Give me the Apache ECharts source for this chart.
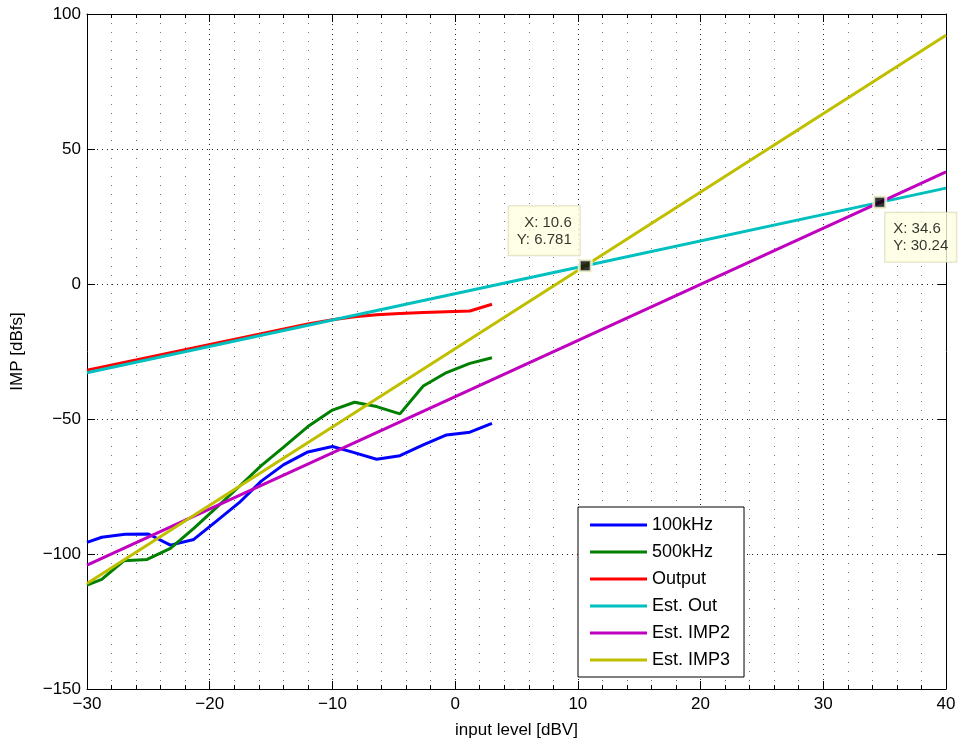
<!DOCTYPE html>
<html><head><meta charset="utf-8">
<script src="https://cdn.jsdelivr.net/npm/echarts@6/dist/echarts.min.js"></script>
<style>html,body{margin:0;padding:0;background:#fff}#c{width:962px;height:747px}</style>
</head><body><div id="c"></div>
<script>
var xTicks = [-30, -20, -10, 0, 10, 20, 30, 40];
var yTicks = [-150, -100, -50, 0, 50, 100];

var blueX = [-30, -28.8, -26.9, -25, -23.2, -21.3, -19.5, -17.6, -15.8, -14, -12, -10, -8.5, -6.4, -4.5, -2.6, -0.7, 1.2, 3];
var blueY = [-95.7, -93.8, -92.7, -92.6, -96.7, -94.6, -88, -81, -73, -67, -62.2, -60.2, -62.1, -64.9, -63.6, -59.6, -55.9, -54.9, -51.6];

var greenX = [-30, -28.8, -27, -25.1, -23.2, -21.3, -19.5, -17.6, -15.8, -14, -12, -10, -8.2, -6.4, -4.5, -2.6, -0.7, 1.2, 3];
var greenY = [-111.5, -109.4, -102.5, -102, -97.9, -90.5, -83, -75, -67.3, -60.5, -52.8, -46.7, -43.8, -45.4, -48.1, -37.8, -32.8, -29.4, -27.3];

var redX = [-30, -12, -10, -8.2, -6.4, -4.5, -2.6, -0.7, 1.2, 3];
var redY = [-31.9, -14.8, -13.2, -12.1, -11.4, -10.9, -10.6, -10.3, -10, -7.5];

var estOutX = [-30, 10.6, 34.6, 40];
var estOutY = [-32.9, 6.781, 30.24, 35.5];

var estImp2X = [-30, 34.6, 40];
var estImp2Y = [-104.1, 30.24, 41.5];

var estImp3X = [-30, 10.6, 40];
var estImp3Y = [-110.9, 6.781, 92.1];

var tipX = [10.6, 34.6];
var tipY = [6.781, 30.24];

var names = ['100kHz', '500kHz', 'Output', 'Est. Out', 'Est. IMP2', 'Est. IMP3'];
var colors = ['#0000ff', '#008000', '#ff0000', '#00bfbf', '#bf00bf', '#bfbf00'];

function pairs(xs, ys) { return xs.map(function (x, i) { return [x, ys[i]]; }); }
function fmt(v) { return String(v).replace('-', '\u2212'); }

var FONT = 'Liberation Sans, Arial, sans-serif';
var FS = 17;
var seriesData = [pairs(blueX, blueY), pairs(greenX, greenY), pairs(redX, redY),
  pairs(estOutX, estOutY), pairs(estImp2X, estImp2Y), pairs(estImp3X, estImp3Y)];

var series = names.map(function (n, i) {
  return {
    name: n, type: 'line', data: seriesData[i], showSymbol: false, symbol: 'none',
    lineStyle: { color: colors[i], width: 3 }, itemStyle: { color: colors[i] },
    z: 3, animation: false, silent: true
  };
});

var tipStyle = {
  show: true, fontFamily: FONT, fontSize: 15, lineHeight: 17, color: '#000',
  backgroundColor: '#ffffe1', borderColor: '#d8d8b8', borderWidth: 1, padding: [8, 8, 7, 8]
};
series.push({
  type: 'scatter', name: 'tips', z: 10, animation: false, silent: true,
  symbol: 'rect', symbolSize: 12,
  itemStyle: { color: '#000', borderColor: '#ffffe1', borderWidth: 3 },
  data: [
    { value: [tipX[0], tipY[0]], label: Object.assign({}, tipStyle, {
        formatter: 'X: ' + tipX[0] + '\nY: ' + tipY[0], position: [2, -3], align: 'right', verticalAlign: 'bottom' }) },
    { value: [tipX[1], tipY[1]], label: Object.assign({}, tipStyle, {
        formatter: 'X: ' + tipX[1] + '\nY: ' + tipY[1], position: [13, 18], align: 'left', verticalAlign: 'top' }) }
  ]
});

var chart = echarts.init(document.getElementById('c'), null, { renderer: 'canvas' });
chart.setOption({
  backgroundColor: '#fff',
  animation: false,
  textStyle: { fontFamily: FONT },
  grid: { left: 87, right: 16, top: 14, bottom: 58, containLabel: false },
  legend: {
    data: names, orient: 'vertical', left: 578, top: 507,
    icon: 'rect', itemWidth: 57, itemHeight: 3, itemGap: 7,
    padding: [8, 14, 7, 12], backgroundColor: '#fff', borderColor: '#000', borderWidth: 1,
    textStyle: { fontFamily: FONT, fontSize: 18, color: '#000', lineHeight: 20 },
    selectedMode: false, z: 20
  },
  xAxis: [{
    type: 'value', min: -30, max: 40, interval: 10, position: 'bottom',
    name: 'input level [dBV]', nameLocation: 'middle', nameGap: 33,
    nameTextStyle: { fontFamily: FONT, fontSize: FS, color: '#000' },
    axisLine: { show: true, onZero: false, lineStyle: { color: '#000', width: 1 } },
    axisTick: { show: true, inside: true, length: 8, lineStyle: { color: '#000' } },
    minorTick: { show: true, splitNumber: 5, length: 4, lineStyle: { color: '#000' } },
    axisLabel: { fontFamily: FONT, fontSize: FS, color: '#000', margin: 7, formatter: fmt },
    splitLine: { show: true, lineStyle: { color: '#222', type: [1, 4], width: 1 } },
    minorSplitLine: { show: true, lineStyle: { color: '#777', type: [1, 8], width: 1 } }
  }, {
    type: 'value', min: -30, max: 40, interval: 10, position: 'top',
    axisLine: { show: true, onZero: false, lineStyle: { color: '#000', width: 1 } },
    axisTick: { show: true, inside: true, length: 8, lineStyle: { color: '#000' } },
    minorTick: { show: true, splitNumber: 5, length: 4, lineStyle: { color: '#000' } },
    axisLabel: { show: false }, splitLine: { show: false }
  }],
  yAxis: [{
    type: 'value', min: -150, max: 100, interval: 50, position: 'left',
    name: 'IMP [dBfs]', nameLocation: 'middle', nameGap: 61, nameRotate: 90,
    nameTextStyle: { fontFamily: FONT, fontSize: FS, color: '#000' },
    axisLine: { show: true, onZero: false, lineStyle: { color: '#000', width: 1 } },
    axisTick: { show: true, inside: true, length: 8, lineStyle: { color: '#000' } },
    axisLabel: { fontFamily: FONT, fontSize: FS, color: '#000', margin: 6, formatter: fmt },
    splitLine: { show: true, lineStyle: { color: '#222', type: [1, 4], width: 1 } }
  }, {
    type: 'value', min: -150, max: 100, interval: 50, position: 'right',
    axisLine: { show: true, onZero: false, lineStyle: { color: '#000', width: 1 } },
    axisTick: { show: true, inside: true, length: 8, lineStyle: { color: '#000' } },
    axisLabel: { show: false }, splitLine: { show: false }
  }],
  series: series
});
</script></body></html>
